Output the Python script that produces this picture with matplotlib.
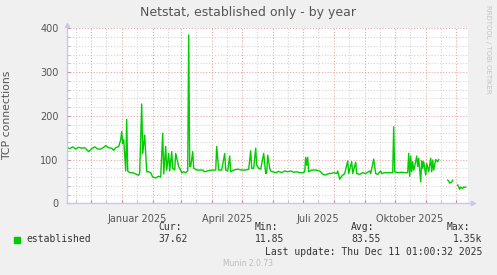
import numpy as np
import matplotlib
matplotlib.use("Agg")
import matplotlib.pyplot as plt
import matplotlib.dates as mdates
from matplotlib.patches import Rectangle

# days after 2024-12-01 and established TCP connections (NaN = no data)
day0 = np.datetime64("2024-12-01")
days = [-23, -21, -18, -15, -12, -9, -6, -2, 1, 4, 7, 10, 13, 15, 18, 21, 23,
        25, 28, 30, 31, 32, 33, 35, 36, 37, 39, 42, 47, 48, 49, 51, 52, 54, 56,
        58, 60, 62, 65, 68, 70, 72, 73, 75, 76, 78, 79, 81, 82, 84, 85, 88, 89,
        91, 93, 95, 97, 98, 99, 100, 102, 103, 106, 109, 112, 114, 117, 121,
        125, 126, 128, 131, 134, 135, 137, 139, 140, 143, 147, 151, 155, 158,
        160, 161, 163, 165, 166, 168, 170, 173, 175, 176, 177, 179, 180, 182,
        185, 188, 191, 194, 197, 200, 203, 206, 209, 212, 214, 215, 216, 217,
        218, 221, 225, 229, 233, 235, 238, 240, 243, 246, 247, 249, 251, 254,
        257, 258, 261, 262, 265, 266, 269, 272, 275, 279, 280, 283, 285, 287,
        290, 291, 294, 297, 300, 302, 303, 304, 307, 311, 315, 317, 318, 319,
        320, 321, 322, 323, 324, 326, 327, 328, 330, 331, 332, 333, 335, 336,
        338, 340, 341, 342, 343, 345, 347, 348, 352, 357, 358, 359, 361, 362,
        365, 367, 369, 370, 372, 373, 375]
conns = [127, 125, 129, 124, 128, 126, 127, 118, 125, 129, 124, 124, 128, 132,
         127, 126, 121, 127, 130, 145, 164, 137, 145, 74, 192, 74, 70, 70, 65,
         64, 70, 227, 114, 156, 72, 72, 70, 60, 58, 62, 60, 160, 67, 130, 76,
         114, 74, 118, 80, 76, 114, 84, 80, 70, 72, 70, 74, 385, 84, 84, 118,
         80, 76, 76, 76, 72, 74, 76, 76, 130, 76, 76, 114, 76, 74, 108, 72, 76,
         78, 76, 76, 78, 120, 80, 80, 126, 87, 80, 78, 114, 68, 70, 110, 80, 74,
         72, 70, 73, 70, 74, 72, 74, 71, 72, 70, 70, 72, 105, 87, 105, 72, 76,
         76, 74, 65, 65, 68, 68, 70, 68, 74, 55, 62, 68, 97, 68, 95, 68, 94, 68,
         66, 70, 68, 74, 68, 101, 68, 66, 74, 68, 70, 70, 70, 70, 175, 72, 70,
         71, 70, 70, 114, 62, 108, 72, 95, 76, 84, 108, 84, 103, 49, 97, 80, 95,
         65, 91, 72, 103, 72, 99, 76, 100, 95, 100, np.nan, 53, 51, 46, 49, 53,
         np.nan, 42, 32, 37, 34, 37, 37]

month_labels = ["Januar 2025", "April 2025", "Juli 2025", "Oktober 2025"]
label_dates = ["2025-01-16", "2025-04-16", "2025-07-16", "2025-10-16"]

legend_name = "established"
stat_heads = ["Cur:", "Min:", "Avg:", "Max:"]
stat_vals = ["37.62", "11.85", "83.55", "1.35k"]

green = "#00cc00"
txt = "#555555"
axis_col = "#c8c8f0"

fig = plt.figure(figsize=(4.97, 2.75), dpi=100, facecolor="#f0f0f0")
ax = fig.add_axes([67 / 497, 1 - 203.3 / 275, 401 / 497, 175 / 275])
ax.set_facecolor("white")

x0 = mdates.date2num(day0)
xs = x0 + np.array(days, dtype=float)
ax.plot(xs, conns, color=green, lw=1.0)

ax.set_xlim(x0 - 23.7, x0 + 377.3)
ax.set_ylim(0, 400)

ax.xaxis.set_major_locator(mdates.MonthLocator(bymonthday=1))
ax.xaxis.set_minor_locator(mdates.MonthLocator(bymonthday=16))
ax.xaxis.set_major_formatter(plt.NullFormatter())
ax.set_yticks([0, 100, 200, 300, 400])
ax.set_yticks(np.arange(0, 401, 20), minor=True)

dots = (0, (1, 1.6))
ax.grid(which="minor", color="#d4d4d4", lw=0.8, linestyle=dots)
ax.grid(which="major", color="#e8a8a8", lw=0.8, linestyle=dots)
ax.set_axisbelow(True)

ax.tick_params(axis="both", which="major", direction="in", length=2,
               color="#e08080", labelsize=7, labelcolor=txt, pad=6)
ax.tick_params(axis="both", which="minor", direction="in", length=2,
               color="#bbbbbb")
ax.tick_params(axis="x", which="both", labelbottom=False)

for s in ["top", "right"]:
    ax.spines[s].set_visible(False)
for s in ["left", "bottom"]:
    ax.spines[s].set_color(axis_col)
    ax.spines[s].set_linewidth(1.0)

# arrows on the axes
ax.plot([0], [1.02], marker="^", ms=3, color=axis_col, transform=ax.transAxes,
        clip_on=False)
ax.plot([1.012], [0], marker=">", ms=3, color=axis_col, transform=ax.transAxes,
        clip_on=False)
ax.plot([1.0, 1.01], [0, 0], color=axis_col, lw=1.0, transform=ax.transAxes,
        clip_on=False)

for lab, d in zip(month_labels, label_dates):
    ax.text(mdates.date2num(np.datetime64(d)), -0.06, lab, fontsize=7,
            color=txt, ha="center", va="top",
            transform=ax.get_xaxis_transform())

ax.set_ylabel("TCP connections", fontsize=7.8, color=txt, labelpad=5)
ax.yaxis.set_label_coords(-0.137, 0.5)

fig.text(0.5, 1 - 12.5 / 275, "Netstat, established only - by year",
         fontsize=9, color=txt, ha="center", va="center")
fig.text(488 / 497, 1 - 5 / 275, "RRDTOOL / TOBI OETIKER", fontsize=5,
         color="#c4c4c4", rotation=270, ha="center", va="top")

# legend block
mono = "DejaVu Sans Mono"
fig.patches.append(Rectangle((14 / 497, 1 - 242.7 / 275), 6 / 497, 5.6 / 275,
                             transform=fig.transFigure, color=green))
fig.text(26 / 497, 1 - 239.5 / 275, legend_name, family=mono, fontsize=7,
         color="#333333", va="center")
head_x = [158, 255, 351, 446.7]
for hx, h, v in zip(head_x, stat_heads, stat_vals):
    fig.text(hx / 497, 1 - 227.5 / 275, h, family=mono, fontsize=7,
             color="#333333", va="center")
    if h == "Max:":
        fig.text(482.7 / 497, 1 - 239.5 / 275, v, family=mono, fontsize=7,
                 color="#333333", va="center", ha="right")
    else:
        fig.text(hx / 497, 1 - 239.5 / 275, v, family=mono, fontsize=7,
                 color="#333333", va="center")
fig.text(482.7 / 497, 1 - 251.7 / 275,
         "Last update: Thu Dec 11 01:00:32 2025", family=mono, fontsize=7,
         color="#333333", va="center", ha="right")
fig.text(248 / 497, 1 - 264 / 275, "Munin 2.0.73", fontsize=5.5,
         color="#bbbbbb", ha="center", va="center")

fig.savefig("out.png", dpi=100, facecolor=fig.get_facecolor())
